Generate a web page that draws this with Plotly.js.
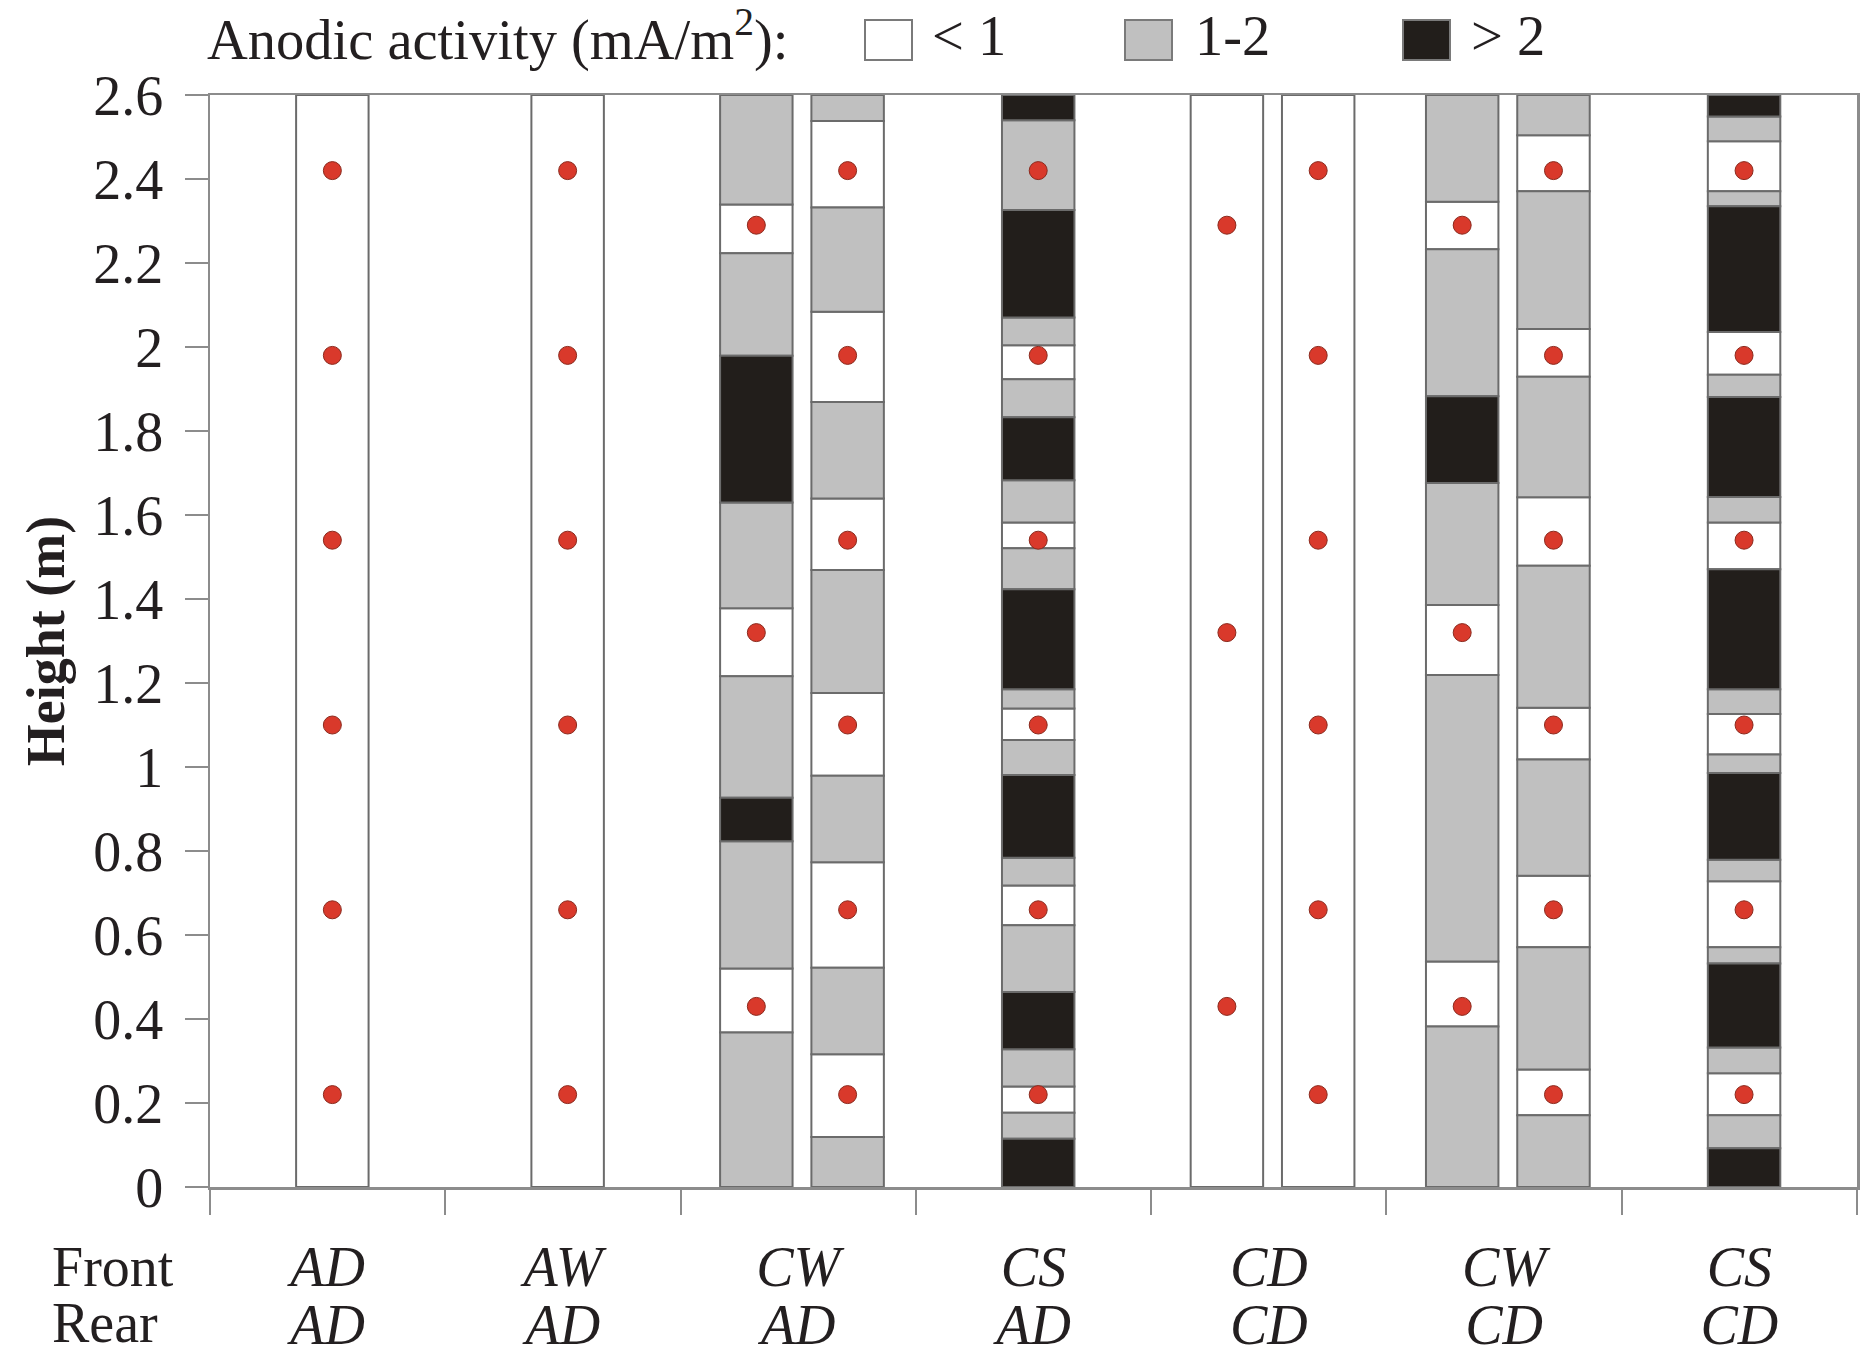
<!DOCTYPE html>
<html>
<head>
<meta charset="utf-8">
<script src="https://cdn.plot.ly/plotly-3.0.1.min.js"></script>
<style>html,body{margin:0;padding:0;background:#fff;}</style>
</head>
<body>
<div id="chart" style="width:1865px;height:1356px;"></div>
<script>
// ---------------- DATA ----------------
const frontLabels = ['AD', 'AW', 'CW', 'CS', 'CD', 'CW', 'CS'];
const rearLabels  = ['AD', 'AD', 'AD', 'AD', 'CD', 'CD', 'CD'];
const rowLabels   = ['Front', 'Rear'];
const levelLabels = ['< 1', '1-2', '> 2'];
const legendTitle = 'Anodic activity (mA/m<sup>2</sup>):';
const yTitle      = 'Height (m)';

// measurement heights (m)
const rearDotHeights  = [0.22, 0.66, 1.10, 1.54, 1.98, 2.42];
const frontDotHeights = [0.43, 1.32, 2.29];

// segment edges (bottom -> top, m) and activity level per segment (0: <1, 1: 1-2, 2: >2)
const adAdEdges  = [0, 2.6];
const adAdLevels = [0];

const awAdEdges  = [0, 2.6];
const awAdLevels = [0];

const cwAdFrontEdges  = [0, 0.368, 0.520, 0.823, 0.927, 1.216, 1.378, 1.630, 1.979, 2.223, 2.339, 2.6];
const cwAdFrontLevels = [1, 0, 1, 2, 1, 0, 1, 2, 1, 0, 1];

const cwAdRearEdges  = [0, 0.119, 0.316, 0.522, 0.773, 0.979, 1.176, 1.469, 1.639, 1.869, 2.084, 2.332, 2.538, 2.6];
const cwAdRearLevels = [1, 0, 1, 0, 1, 0, 1, 0, 1, 0, 1, 0, 1];

const csAdEdges  = [0, 0.115, 0.177, 0.239, 0.328, 0.464, 0.623, 0.718, 0.784, 0.981, 1.064, 1.139, 1.185,
                    1.423, 1.521, 1.582, 1.683, 1.833, 1.923, 2.004, 2.070, 2.326, 2.540, 2.6];
const csAdLevels = [2, 1, 0, 1, 2, 1, 0, 1, 2, 1, 0, 1, 2, 1, 0, 1, 2, 1, 0, 1, 2, 1, 2];

const cdCdFrontEdges  = [0, 2.6];
const cdCdFrontLevels = [0];

const cdCdRearEdges  = [0, 2.6];
const cdCdRearLevels = [0];

const cwCdFrontEdges  = [0, 0.382, 0.537, 1.219, 1.386, 1.676, 1.883, 2.233, 2.346, 2.6];
const cwCdFrontLevels = [1, 0, 1, 0, 1, 2, 1, 0, 1];

const cwCdRearEdges  = [0, 0.171, 0.280, 0.571, 0.741, 1.018, 1.141, 1.479, 1.642, 1.929, 2.043, 2.371, 2.504, 2.6];
const cwCdRearLevels = [1, 0, 1, 0, 1, 0, 1, 0, 1, 0, 1, 0, 1];

const csCdEdges  = [0, 0.092, 0.171, 0.271, 0.332, 0.532, 0.571, 0.728, 0.779, 0.986, 1.030, 1.126, 1.185,
                    1.471, 1.582, 1.643, 1.881, 1.934, 2.036, 2.335, 2.371, 2.490, 2.549, 2.6];
const csCdLevels = [2, 1, 0, 1, 2, 1, 0, 1, 2, 1, 0, 1, 2, 0, 1, 2, 1, 0, 2, 1, 0, 1, 2];

// column -> group index and slot inside the group
const columnGroups = [0, 1, 2, 2, 3, 4, 4, 5, 5, 6];
const columnSlots  = ['single', 'single', 'front', 'rear', 'single', 'front', 'rear', 'front', 'rear', 'single'];
const columnEdges  = [adAdEdges, awAdEdges, cwAdFrontEdges, cwAdRearEdges, csAdEdges,
                      cdCdFrontEdges, cdCdRearEdges, cwCdFrontEdges, cwCdRearEdges, csCdEdges];
const columnLevels = [adAdLevels, awAdLevels, cwAdFrontLevels, cwAdRearLevels, csAdLevels,
                      cdCdFrontLevels, cdCdRearLevels, cwCdFrontLevels, cwCdRearLevels, csCdLevels];

// ---------------- STYLE ----------------
const slotOffset = {single: 0.02, front: -0.178, rear: 0.21};
const barWidth = 0.308;
const levelColors = ['#ffffff', '#c0c0c0', '#221e1b'];
const edgeColor = '#6b6b6b';
const axisColor = '#8c8c8c';
const textColor = '#231f20';
const FONT = 'Liberation Serif, Times New Roman, serif';

const W = 1865, H = 1356;
const M = {l: 210, r: 8, t: 95, b: 169};
const PW = W - M.l - M.r, PH = H - M.t - M.b;
const px = x => (x - M.l) / PW;
const py = y => (H - M.b - y) / PH;

// ---------------- TRACES ----------------
const traces = [];
for (let lvl = 0; lvl < 3; lvl++) {
  const xs = [], bases = [], hs = [];
  columnEdges.forEach((edges, c) => {
    const xc = columnGroups[c] + slotOffset[columnSlots[c]];
    columnLevels[c].forEach((l, i) => {
      if (l === lvl) {
        xs.push(xc);
        bases.push(edges[i]);
        hs.push(edges[i + 1] - edges[i]);
      }
    });
  });
  traces.push({
    type: 'bar', x: xs, y: hs, base: bases, width: barWidth,
    marker: {color: levelColors[lvl], line: {color: edgeColor, width: 2}},
    name: levelLabels[lvl], showlegend: false, hoverinfo: 'skip'
  });
}

const dotX = [], dotY = [];
columnSlots.forEach((slot, c) => {
  const xc = columnGroups[c] + slotOffset[slot];
  const hts = slot === 'front' ? frontDotHeights : rearDotHeights;
  hts.forEach(h => { dotX.push(xc); dotY.push(h); });
});
// dots live on the overlaying x axis (same range), which also carries the "Rear" tick row
traces.push({
  type: 'scatter', mode: 'markers', x: dotX, y: dotY, xaxis: 'x2', yaxis: 'y',
  marker: {size: 18, color: '#d9392b', line: {color: '#8b2a1e', width: 1}},
  showlegend: false, hoverinfo: 'skip'
});

// ---------------- LEGEND (manual) ----------------
const legendKeyX = [[865, 912], [1125, 1172], [1403, 1450]];
const legendTextX = [930, 1193, 1469];
const legendKeyY = [20, 60];
const legendMidY = 36;

const shapes = levelColors.map((col, i) => ({
  type: 'rect', xref: 'paper', yref: 'paper',
  x0: px(legendKeyX[i][0]), x1: px(legendKeyX[i][1]),
  y0: py(legendKeyY[1]), y1: py(legendKeyY[0]),
  fillcolor: col, line: {color: '#7a7a7a', width: 2}
}));

const annFont = {family: FONT, size: 56.5, color: textColor};
const annotations = [
  {xref: 'paper', yref: 'paper', x: px(205), y: py(legendMidY), xanchor: 'left', yanchor: 'middle',
   text: legendTitle, showarrow: false, font: annFont}
];
levelLabels.forEach((t, i) => annotations.push({
  xref: 'paper', yref: 'paper', x: px(legendTextX[i]), y: py(legendMidY), xanchor: 'left', yanchor: 'middle',
  text: t, showarrow: false, font: annFont
}));
annotations.push({xref: 'paper', yref: 'paper', x: px(50), y: py(1267), xanchor: 'left', yanchor: 'middle',
  text: rowLabels[0], showarrow: false, font: {family: FONT, size: 56, color: textColor}});
annotations.push({xref: 'paper', yref: 'paper', x: px(50), y: py(1323), xanchor: 'left', yanchor: 'middle',
  text: rowLabels[1], showarrow: false, font: {family: FONT, size: 56, color: textColor}});

// ---------------- LAYOUT ----------------
const groupIdx = frontLabels.map((_, i) => i);
const boundaries = [-0.5].concat(groupIdx.map(i => i + 0.5));

const layout = {
  width: W, height: H,
  margin: {l: M.l, r: M.r, t: M.t, b: M.b, pad: 0},
  paper_bgcolor: '#ffffff', plot_bgcolor: 'rgba(0,0,0,0)',
  font: {family: FONT, size: 56, color: textColor},
  showlegend: false,
  barmode: 'overlay',
  xaxis: {
    type: 'linear', range: [-0.5, 6.5], fixedrange: true,
    tickmode: 'array', tickvals: groupIdx, ticktext: frontLabels.map(s => '<i>' + s + '</i>'),
    ticks: '', ticklabelstandoff: 29,
    showline: true, linecolor: axisColor, linewidth: 2.5, mirror: true,
    showgrid: false, zeroline: false,
    minor: {tickmode: 'array', tickvals: boundaries, ticks: 'outside', ticklen: 25,
            tickwidth: 2, tickcolor: axisColor, showgrid: false}
  },
  xaxis2: {
    type: 'linear', range: [-0.5, 6.5], overlaying: 'x', anchor: 'y', side: 'bottom', fixedrange: true,
    tickmode: 'array', tickvals: groupIdx, ticktext: rearLabels.map(s => '<i>' + s + '</i>'),
    ticks: '', ticklabelstandoff: 100,
    showline: false, showgrid: false, zeroline: false
  },
  yaxis: {
    range: [0, 2.6], fixedrange: true,
    tickmode: 'linear', tick0: 0, dtick: 0.2,
    ticks: 'outside', ticklen: 23, tickwidth: 2, tickcolor: axisColor,
    ticklabelstandoff: 10,
    showline: true, linecolor: axisColor, linewidth: 2.5, mirror: true,
    showgrid: false, zeroline: false,
    title: {text: yTitle, font: {family: FONT, size: 54, weight: 700, color: textColor}, standoff: 12}
  },
  shapes: shapes,
  annotations: annotations
};

Plotly.newPlot('chart', traces, layout, {displayModeBar: false, staticPlot: true});
</script>
</body>
</html>
